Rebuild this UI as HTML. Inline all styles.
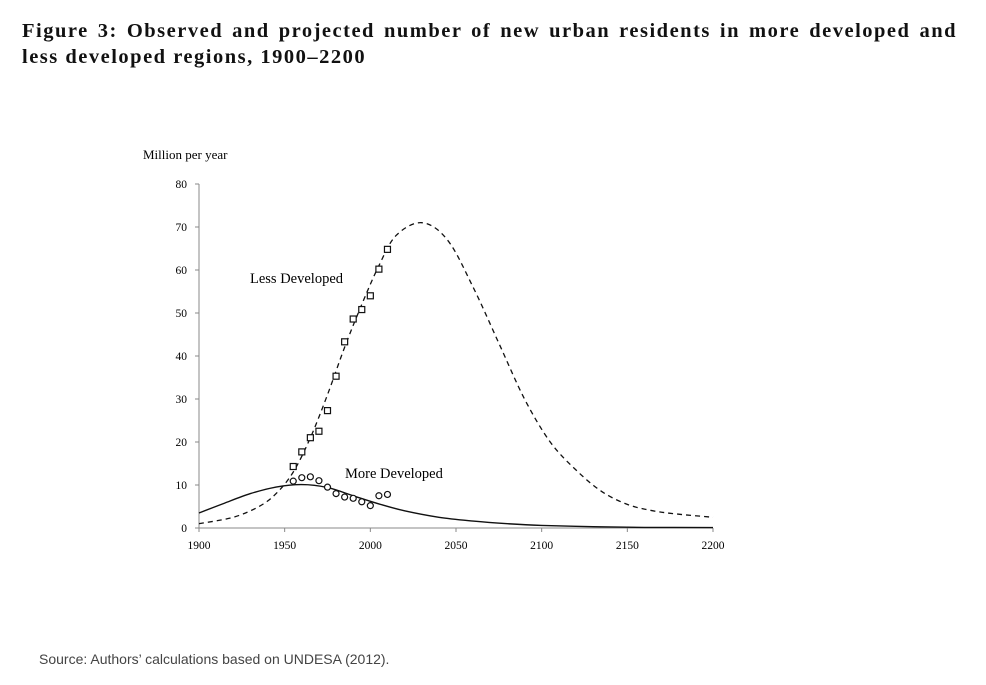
<!DOCTYPE html>
<html><head><meta charset="utf-8"><style>
body{margin:0;width:986px;height:685px;background:#fff;overflow:hidden;position:relative}
.t{position:absolute;left:22px;width:935px;font:bold 20.5px "Liberation Serif",serif;line-height:26px;color:#111;white-space:nowrap}
#t1{top:18px;text-align:justify;text-align-last:justify;letter-spacing:1.5px}
#t2{top:44px;letter-spacing:1.5px}
#source{position:absolute;left:39px;top:651px;font:14px "Liberation Sans",sans-serif;color:#444}
svg{position:absolute;left:0;top:0}
</style></head><body>
<div>
<div class="t" id="t1">Figure 3: Observed and projected number of new urban residents in more developed and</div>
<div class="t" id="t2">less developed regions, 1900–2200</div>
</div>
<svg id="chart" width="986" height="685"></svg>
<div id="source">Source: Authors’ calculations based on UNDESA (2012).</div>
<script>
const xTicks=[1900,1950,2000,2050,2100,2150,2200];
const yTicks=[0,10,20,30,40,50,60,70,80];
const lessYears=[1900,1920,1935,1945,1955,1965,1975,1985,1995,2005,2015,2030,2045,2060,2075,2090,2105,2120,2135,2150,2165,2180,2200];
const lessVals=[1,2.5,5,8,13,21,31,42,52,61,68,71,67,56,43,30,20,13.5,8.5,5.5,4,3.2,2.5];
const moreYears=[1900,1915,1930,1945,1960,1975,1990,2005,2020,2040,2060,2080,2100,2130,2160,2200];
const moreVals=[3.5,5.8,8,9.5,10.1,9.4,7.5,5.6,4,2.5,1.6,1,0.6,0.3,0.15,0.1];
const obsYears=[1955,1960,1965,1970,1975,1980,1985,1990,1995,2000,2005,2010];
const lessObs=[14.3,17.7,21,22.5,27.3,35.3,43.3,48.6,50.8,54,60.2,64.8];
const moreObs=[10.9,11.7,11.9,11.0,9.5,8,7.2,6.9,6.1,5.2,7.5,7.8];
const X=v=>199+(v-1900)*(713-199)/300;
const Y=v=>528-v*(528-184)/80;
const svg=document.getElementById('chart');
const NS='http://www.w3.org/2000/svg';
function mk(t,a,txt){const e=document.createElementNS(NS,t);for(const k in a)e.setAttribute(k,a[k]);if(txt!==undefined)e.textContent=txt;svg.appendChild(e);return e;}
const F='"Liberation Serif",serif';
let e=mk('line',{x1:199,y1:184,x2:199,y2:528,stroke:'#888'});

e=mk('line',{x1:199,y1:528,x2:713,y2:528,stroke:'#888'});

yTicks.forEach(t=>{mk('line',{x1:195,y1:Y(t),x2:199,y2:Y(t),stroke:'#888'});
 e=mk('text',{x:187,y:Y(t)+4,'text-anchor':'end','font-family':F,'font-size':11.5},t);
 });
xTicks.forEach(t=>{mk('line',{x1:X(t),y1:528,x2:X(t),y2:532,stroke:'#888'});
 e=mk('text',{x:X(t),y:549,'text-anchor':'middle','font-family':F,'font-size':11.5},t);
 });
e=mk('text',{x:143,y:159,'font-family':F,'font-size':13},'Million per year');

function path(xs,vs){
 const p=xs.map((x,i)=>[X(x),Y(vs[i])]);
 let d='M'+p[0][0].toFixed(1)+','+p[0][1].toFixed(1);
 for(let i=0;i<p.length-1;i++){
  const p0=p[i-1]||p[i],p1=p[i],p2=p[i+1],p3=p[i+2]||p2;
  const c1=[p1[0]+(p2[0]-p0[0])/6,p1[1]+(p2[1]-p0[1])/6];
  const c2=[p2[0]-(p3[0]-p1[0])/6,p2[1]-(p3[1]-p1[1])/6];
  d+='C'+c1.map(v=>v.toFixed(1))+' '+c2.map(v=>v.toFixed(1))+' '+p2.map(v=>v.toFixed(1));
 }
 return d;}
e=mk('path',{d:path(lessYears,lessVals),fill:'none',stroke:'#111','stroke-width':1.3,'stroke-dasharray':'5,4'});

e=mk('path',{d:path(moreYears,moreVals),fill:'none',stroke:'#111','stroke-width':1.4});

obsYears.forEach((y,i)=>{
 e=mk('rect',{x:X(y)-3,y:Y(lessObs[i])-3,width:6,height:6,fill:'#fff',stroke:'#111','stroke-width':1.2});
 
 e=mk('circle',{cx:X(y),cy:Y(moreObs[i]),r:3,fill:'#fff',stroke:'#111','stroke-width':1.2});
 
});
e=mk('text',{x:250,y:283,'font-family':F,'font-size':14.5},'Less Developed');

e=mk('text',{x:345,y:478,'font-family':F,'font-size':14.5},'More Developed');

</script>
</body></html>
